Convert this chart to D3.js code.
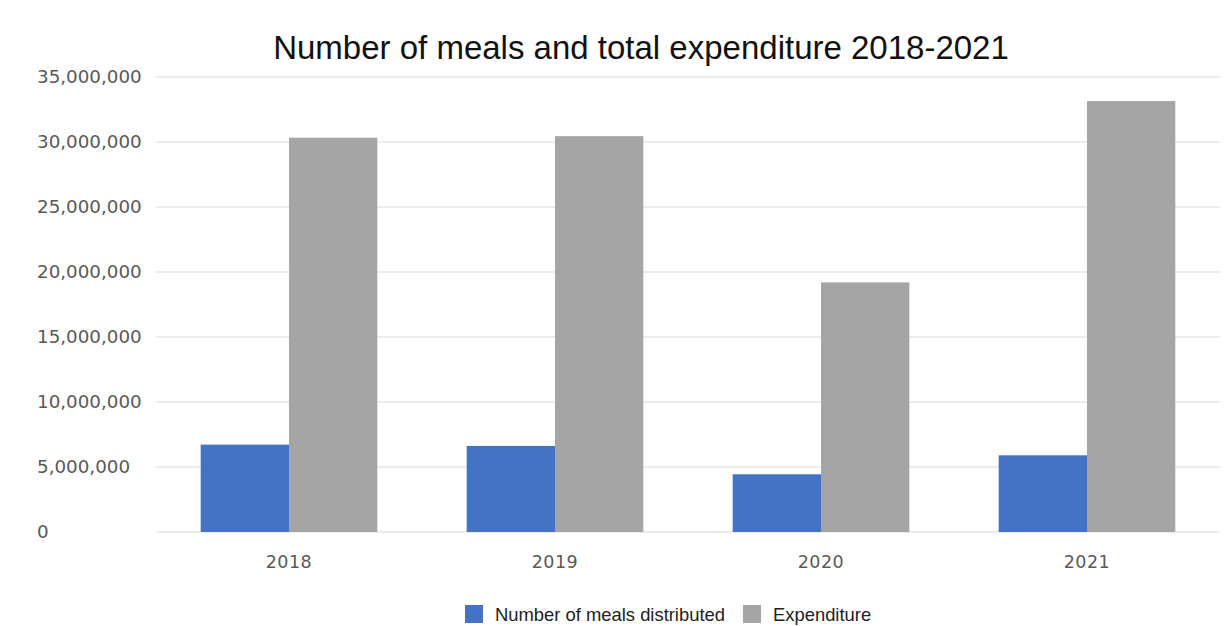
<!DOCTYPE html>
<html>
<head>
<meta charset="utf-8">
<script src="https://cdn.jsdelivr.net/npm/d3@7"></script>
<style>
  body { margin: 0; background: #fff; }
  svg { display: block; }
</style>
</head>
<body>
<div id="viz"></div>
<script>
var years = ['2018', '2019', '2020', '2021'];
var meals = [6720000, 6620000, 4440000, 5900000];
var expenditure = [30330000, 30450000, 19200000, 33150000];
var seriesNames = ['Number of meals distributed', 'Expenditure'];
var yTicks = [0, 5000000, 10000000, 15000000, 20000000, 25000000, 30000000, 35000000];

var width = 1232, height = 626;
var margin = {top: 77, right: 12, bottom: 94, left: 156};
var colors = ['#4472c4', '#a5a5a5'];

var svg = d3.select('#viz').append('svg')
  .attr('width', width)
  .attr('height', height);

// x band per year
var x = d3.scaleBand()
  .domain(years)
  .range([margin.left, width - margin.right])
  .padding(0);

var y = d3.scaleLinear()
  .domain([0, 35000000])
  .range([height - margin.bottom, margin.top]);

var fmt = d3.format(',');

// gridlines
svg.append('g')
  .selectAll('line')
  .data(yTicks)
  .join('line')
  .attr('x1', margin.left)
  .attr('x2', width - margin.right)
  .attr('y1', d => y(d))
  .attr('y2', d => y(d))
  .attr('stroke', '#d9d9d9')
  .attr('stroke-width', 1);

// y labels (left aligned like the original)
svg.append('g')
  .selectAll('text')
  .data(yTicks)
  .join('text')
  .attr('x', 37)
  .attr('y', d => y(d) + 6)
  .attr('font-family', 'DejaVu Sans, sans-serif')
  .attr('font-size', 18.3)
  .attr('fill', '#595959')
  .text(d => fmt(d));

// bars
var barW = x.bandwidth() * 0.332;
var data = years.map((yr, i) => ({year: yr, vals: [meals[i], expenditure[i]]}));

var groups = svg.append('g')
  .selectAll('g')
  .data(data)
  .join('g')
  .attr('transform', d => 'translate(' + (x(d.year) + x.bandwidth() / 2) + ',0)');

groups.selectAll('rect')
  .data(d => d.vals)
  .join('rect')
  .attr('x', (d, i) => i === 0 ? -barW : 0)
  .attr('width', barW)
  .attr('y', d => y(d))
  .attr('height', d => y(0) - y(d))
  .attr('fill', (d, i) => colors[i]);

// x labels
svg.append('g')
  .selectAll('text')
  .data(years)
  .join('text')
  .attr('x', d => x(d) + x.bandwidth() / 2)
  .attr('y', height - margin.bottom + 36)
  .attr('text-anchor', 'middle')
  .attr('font-family', 'DejaVu Sans, sans-serif')
  .attr('font-size', 17.5)
  .attr('letter-spacing', 0.5)
  .attr('fill', '#595959')
  .text(d => d);

// title
svg.append('text')
  .attr('x', 641)
  .attr('y', 59)
  .attr('text-anchor', 'middle')
  .attr('font-family', 'Liberation Sans, Arial, sans-serif')
  .attr('font-size', 33)
  .attr('fill', '#111')
  .text('Number of meals and total expenditure 2018-2021');

// legend
var legendX = [465, 743];
var legend = svg.append('g')
  .selectAll('g')
  .data(seriesNames)
  .join('g')
  .attr('transform', (d, i) => 'translate(' + legendX[i] + ',605)');

legend.append('rect')
  .attr('width', 18)
  .attr('height', 18)
  .attr('fill', (d, i) => colors[i]);

legend.append('text')
  .attr('x', 30)
  .attr('y', 16)
  .attr('font-family', 'Liberation Sans, Arial, sans-serif')
  .attr('font-size', 18.4)
  .attr('fill', '#222')
  .text(d => d);
</script>
</body>
</html>
